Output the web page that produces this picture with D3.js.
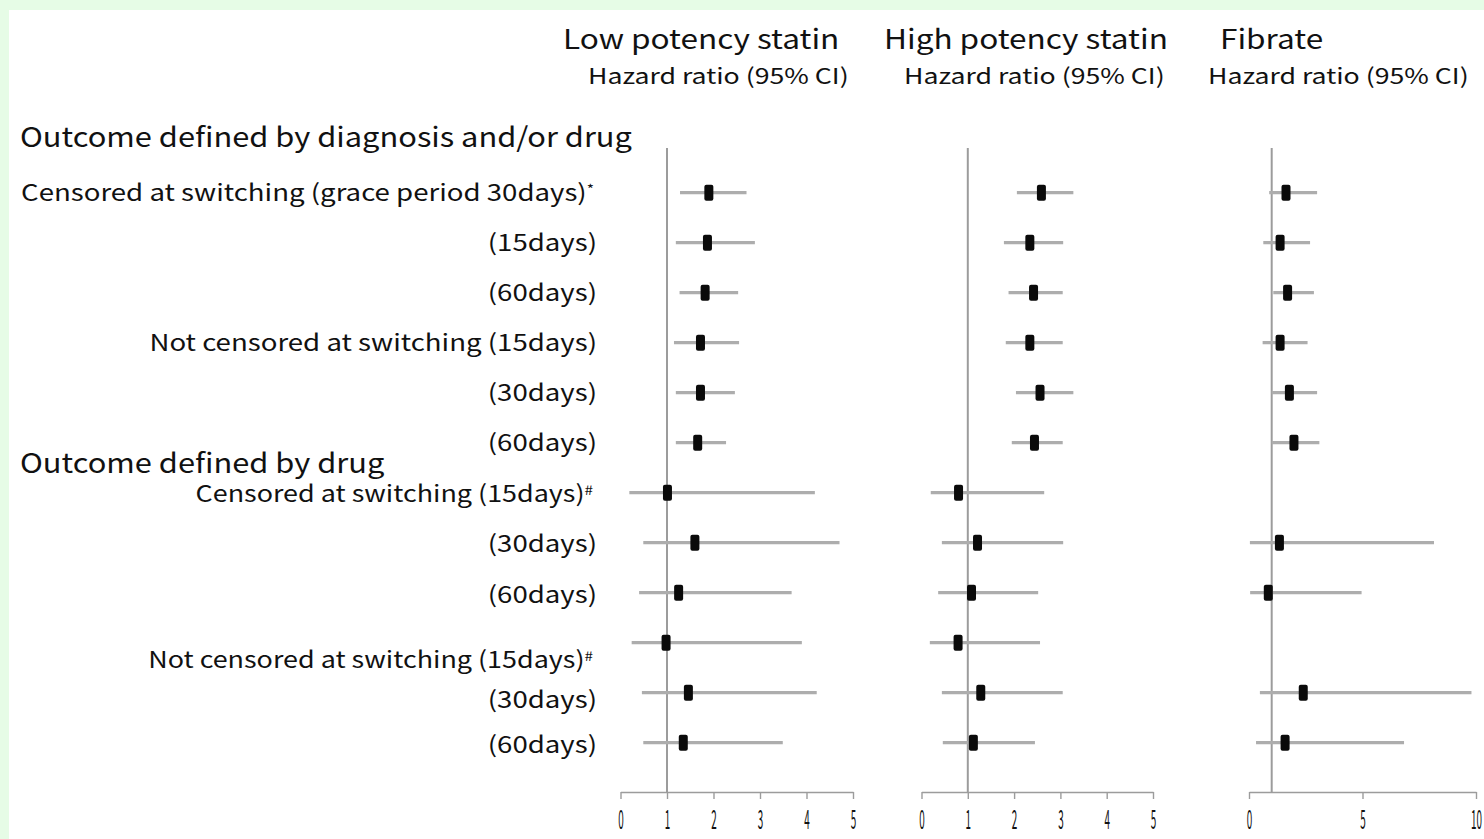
<!DOCTYPE html>
<html>
<head>
<meta charset="utf-8">
<script src="https://cdn.jsdelivr.net/npm/d3@7"></script>
<style>
  html, body { margin: 0; padding: 0; background: #e6fce6; }
  svg { display: block; }
  text { font-family: "Noto Sans CJK JP", "Noto Sans", sans-serif; fill: #111; }
</style>
</head>
<body>
<svg id="chart" width="1484" height="839"></svg>
<script>
// Row labels of the forest plot (one per sensitivity analysis)
const rowLabels = [
  "Censored at switching (grace period 30days)",
  "(15days)",
  "(60days)",
  "Not censored at switching (15days)",
  "(30days)",
  "(60days)",
  "Censored at switching (15days)",
  "(30days)",
  "(60days)",
  "Not censored at switching (15days)",
  "(30days)",
  "(60days)"
];
const rowMarks = ["*", "", "", "", "", "", "#", "", "", "#", "", ""];
const groupTitles = ["Outcome defined by diagnosis and/or drug", "Outcome defined by drug"];
const panelTitles = ["Low potency statin", "High potency statin", "Fibrate"];
const panelSubtitle = "Hazard ratio (95% CI)";

// Hazard ratios with 95% confidence limits, per drug class
const lowEst  = [1.90, 1.87, 1.82, 1.72, 1.72, 1.66, 1.01, 1.60, 1.25, 0.98, 1.46, 1.35];
const lowLo   = [1.28, 1.19, 1.27, 1.15, 1.19, 1.19, 0.19, 0.49, 0.40, 0.24, 0.46, 0.49];
const lowHi   = [2.71, 2.89, 2.53, 2.55, 2.46, 2.27, 4.18, 4.71, 3.68, 3.90, 4.22, 3.49];
const highEst = [2.59, 2.34, 2.42, 2.34, 2.56, 2.44, 0.80, 1.21, 1.08, 0.79, 1.28, 1.12];
const highLo  = [2.06, 1.78, 1.88, 1.82, 2.04, 1.95, 0.20, 0.44, 0.36, 0.18, 0.44, 0.46];
const highHi  = [3.28, 3.06, 3.05, 3.05, 3.28, 3.05, 2.65, 3.06, 2.52, 2.56, 3.05, 2.45];
const fibEst  = [1.63, 1.37, 1.70, 1.37, 1.78, 1.98, null, 1.34, 0.85, null, 2.39, 1.59];
const fibLo   = [0.89, 0.63, 1.07, 0.60, 1.00, 1.00, null, 0.04, 0.05, null, 0.48, 0.31];
const fibHi   = [3.00, 2.69, 2.86, 2.58, 3.00, 3.10, null, 8.15, 4.96, null, 9.80, 6.83];

// Axis tick values per panel
const lowTicks  = [0, 1, 2, 3, 4, 5];
const highTicks = [0, 1, 2, 3, 4, 5];
const fibTicks  = [0, 5, 10];

// ---- layout ----
const svg = d3.select("#chart");
svg.append("rect").attr("x", 9).attr("y", 10).attr("width", 1475).attr("height", 829).attr("fill", "#fff");

const axisY = 792;
const refTop = 148;
const labelRight = 597;
const labelShift = [0, 0, 0, 0, 0, 0, 1, 1, 2, 17, 7, 2];

// Widen glyphs horizontally for a broad gothic look
function widen(sel, factor) {
  sel.each(function () {
    const w = this.getComputedTextLength();
    d3.select(this).attr("textLength", w * factor).attr("lengthAdjust", "spacingAndGlyphs");
  });
}

const y = d3.scalePoint().domain(d3.range(rowLabels.length)).range([192.7, 742.7]);

const panels = [
  { title: panelTitles[0], est: lowEst,  lo: lowLo,  hi: lowHi,  ticks: lowTicks,  x: d3.scaleLinear().domain([0, 5]).range([620.5, 853]),  tx: 563,  sx: 588 },
  { title: panelTitles[1], est: highEst, lo: highLo, hi: highHi, ticks: highTicks, x: d3.scaleLinear().domain([0, 5]).range([921.5, 1153]), tx: 884,  sx: 904 },
  { title: panelTitles[2], est: fibEst,  lo: fibLo,  hi: fibHi,  ticks: fibTicks,  x: d3.scaleLinear().domain([0, 10]).range([1249, 1476]), tx: 1220, sx: 1208 }
];

// Row labels
const rows = svg.append("g").attr("class", "rows");
rowLabels.forEach((lab, i) => {
  const t = rows.append("text")
    .attr("x", labelRight + (rowMarks[i] === "#" ? -4 : rowMarks[i] ? -3 : 0))
    .attr("y", y(i) + labelShift[i])
    .attr("dy", "0.35em")
    .attr("text-anchor", "end")
    .attr("font-size", 23);
  t.append("tspan").text(lab);
  if (rowMarks[i]) {
    t.append("tspan").attr("dy", "-0.55em").attr("font-size", 13).text(rowMarks[i]);
  }
  widen(t, rowMarks[i] === "#" ? 1.17 : 1.2);
});

// Group headings
const gh = svg.append("g");
gh.append("text").attr("x", 20).attr("y", 137).attr("dy", "0.35em").attr("font-size", 27.5).text(groupTitles[0]);
gh.append("text").attr("x", 20).attr("y", 463).attr("dy", "0.35em").attr("font-size", 27.5).text(groupTitles[1]);
widen(gh.selectAll("text"), 1.12);

panels.forEach(p => {
  const g = svg.append("g");

  // Column headings
  const ht = g.append("text").attr("x", p.tx).attr("y", 40).attr("dy", "0.35em").attr("font-size", 26.5).text(p.title);
  widen(ht, 1.19);
  const st = g.append("text").attr("x", p.sx).attr("y", 76).attr("dy", "0.35em").attr("font-size", 21.5).text(panelSubtitle);
  widen(st, 1.24);

  // Line of no effect (HR = 1)
  g.append("line")
    .attr("x1", p.x(1)).attr("x2", p.x(1))
    .attr("y1", refTop).attr("y2", axisY)
    .attr("stroke", "#9c9c9c").attr("stroke-width", 2);

  // Bottom axis
  const ax = g.append("g")
    .attr("transform", `translate(0,${axisY})`)
    .call(d3.axisBottom(p.x).tickValues(p.ticks).tickSize(7).tickSizeOuter(0).tickFormat(d3.format("d")));
  ax.select(".domain").attr("stroke", "#9c9c9c").attr("stroke-width", 1.6);
  ax.selectAll(".tick line").attr("stroke", "#9c9c9c").attr("stroke-width", 1.4);
  ax.selectAll(".tick text")
    .attr("y", 0).attr("dy", 0)
    .attr("transform", "translate(0,30) scale(0.38,1)")
    .attr("dominant-baseline", "middle")
    .attr("font-size", 26)
    .attr("font-family", "'DejaVu Sans', sans-serif")
    .attr("fill", "#1a1a1a");

  const idx = d3.range(p.est.length).filter(i => p.est[i] != null);

  // Confidence intervals
  g.selectAll("line.ci").data(idx).join("line")
    .attr("class", "ci")
    .attr("x1", i => p.x(p.lo[i])).attr("x2", i => p.x(p.hi[i]))
    .attr("y1", i => y(i)).attr("y2", i => y(i))
    .attr("stroke", "#adadad").attr("stroke-width", 3.2);

  // Point estimates
  g.selectAll("rect.est").data(idx).join("rect")
    .attr("class", "est")
    .attr("x", i => p.x(p.est[i]) - 4.5).attr("y", i => y(i) - 8)
    .attr("width", 9).attr("height", 16).attr("rx", 2)
    .attr("fill", "#0a0a0a");
});
</script>
</body>
</html>
